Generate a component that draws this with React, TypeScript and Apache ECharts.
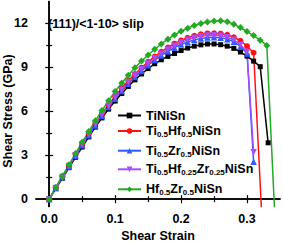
import React, { useEffect, useRef } from "react";
import * as echarts from "echarts";

// Shear strain steps (shared by all curves)
const strain = [
  0, 0.01, 0.02, 0.03, 0.04, 0.05, 0.06, 0.07, 0.08, 0.09, 0.1, 0.11, 0.12, 0.13, 0.14, 0.15, 0.16,
  0.17, 0.18, 0.19, 0.2, 0.21, 0.22, 0.23, 0.24, 0.25, 0.26, 0.27, 0.28, 0.29, 0.3, 0.31, 0.32, 0.33,
];

const seriesNames = [
  "TiNiSn",
  "Ti0.5Hf0.5NiSn",
  "Ti0.5Zr0.5NiSn",
  "Ti0.5Hf0.25Zr0.25NiSn",
  "Hf0.5Zr0.5NiSn",
];

// Shear stress (GPa), one value per strain step
const tiNiSn = [
  0, 0.72, 1.43, 2.15, 2.86, 3.56, 4.25, 4.92, 5.55, 6.15, 6.7, 7.22, 7.7, 8.15, 8.55, 8.92, 9.25,
  9.52, 9.75, 9.95, 10.15, 10.32, 10.45, 10.54, 10.6, 10.6, 10.55, 10.45, 10.3, 10.05, 9.77, 9.43, 9.05,
];
const tiHfNiSn = [
  0, 0.78, 1.54, 2.3, 3.04, 3.77, 4.48, 5.17, 5.83, 6.45, 7.03, 7.58, 8.08, 8.55, 8.98, 9.38, 9.74,
  10.07, 10.36, 10.62, 10.84, 11.02, 11.16, 11.26, 11.32, 11.33, 11.3, 11.22, 11.06, 10.82, 10.45, 10.0,
];
const tiZrNiSn = [
  0, 0.76, 1.5, 2.24, 2.97, 3.68, 4.37, 5.04, 5.68, 6.29, 6.86, 7.39, 7.88, 8.34, 8.76, 9.15, 9.5,
  9.82, 10.1, 10.35, 10.56, 10.74, 10.88, 10.98, 11.04, 11.06, 11.02, 10.93, 10.75, 10.43, 9.95,
];
const tiHfZrNiSn = [
  0, 0.77, 1.52, 2.27, 3.0, 3.72, 4.42, 5.1, 5.75, 6.37, 6.94, 7.48, 7.98, 8.44, 8.87, 9.26, 9.62,
  9.94, 10.23, 10.48, 10.7, 10.88, 11.02, 11.12, 11.18, 11.2, 11.16, 11.06, 10.88, 10.55, 10.05,
];
const hfZrNiSn = [
  0, 0.8, 1.58, 2.35, 3.12, 3.88, 4.63, 5.36, 6.05, 6.72, 7.35, 7.93, 8.47, 8.97, 9.43, 9.85, 10.24,
  10.6, 10.93, 11.22, 11.47, 11.68, 11.86, 12.0, 12.1, 12.17, 12.18, 12.12, 11.95, 11.72, 11.45, 11.17,
  10.86, 10.5,
];

// Failure (drop) points: [strain, stress, showMarker]
const tiNiSnDrop: [number, number, boolean] = [0.332, 3.85, true];
const tiHfNiSnDrop: [number, number, boolean] = [0.3218, -0.6, false];
const tiZrNiSnDrop: [number, number, boolean] = [0.31, 2.55, true];
const tiHfZrNiSnDrop: [number, number, boolean] = [0.31, 3.2, true];
const hfZrNiSnDrop: [number, number, boolean] = [0.3416, -0.6, false];

const xMajorTicks = [0, 0.1, 0.2, 0.3];
const xMinorTicks = [0.05, 0.15, 0.25];
const yMajorTicks = [0, 3, 6, 9, 12];
const yMinorTicks = [1.5, 4.5, 7.5, 10.5];

const colors = ["#000000", "#ff1010", "#2a5cff", "#a64dff", "#22aa22"];
const symbols = ["rect", "circle", "triangle", "triangle", "diamond"];
const symbolSizes = [5, 6, 6.5, 6.5, 7];
const symbolRotates = [0, 0, 0, 180, 0];
const legendTops = [109, 123.5, 143.2, 161.8, 181.8];

const FONT = "Liberation Sans, Arial, sans-serif";

function buildData(values: number[], drop: [number, number, boolean]) {
  const d: any[] = values.map((v, i) => [strain[i], v]);
  d.push(drop[2] ? [drop[0], drop[1]] : { value: [drop[0], drop[1]], symbol: "none" });
  return d;
}

function richName(name: string) {
  const parts = name.split(/(\d+\.\d+)/).filter((p) => p.length > 0);
  return parts.map((p) => (/^\d+\.\d+$/.test(p) ? `{s|${p}}` : `{m|${p}}`)).join("");
}

export default function App() {
  const ref = useRef<HTMLDivElement>(null);
  useEffect(() => {
    const chart = echarts.init(ref.current!, null, { renderer: "svg" });
    const allValues = [tiNiSn, tiHfNiSn, tiZrNiSn, tiHfZrNiSn, hfZrNiSn];
    const allDrops = [tiNiSnDrop, tiHfNiSnDrop, tiZrNiSnDrop, tiHfZrNiSnDrop, hfZrNiSnDrop];

    const axisLineStyle = { show: true, lineStyle: { color: "#000", width: 1.5 } };
    const xBase = { type: "value", min: -0.02, max: 0.35, splitLine: { show: false } };
    const yBase = { type: "value", min: -0.5, max: 13.5, splitLine: { show: false } };
    const labelStyle = { color: "#000", fontSize: 12.5, fontWeight: "bold", fontFamily: FONT };

    const option: any = {
      animation: false,
      title: {
        text: "(111)/<1-10> slip",
        left: 48,
        top: 17,
        padding: 0,
        textStyle: { fontSize: 12.5, fontWeight: "bold", color: "#000", fontFamily: FONT, lineHeight: 14 },
      },
      grid: { left: 36, right: 3, top: 1.5, bottom: 37.5, containLabel: false, outerBoundsMode: "none" },
      xAxis: [
        {
          ...xBase,
          position: "bottom",
          axisLine: axisLineStyle,
          axisTick: { show: true, inside: true, length: 4, customValues: xMajorTicks, lineStyle: { color: "#000", width: 1.2 } },
          axisLabel: {
            ...labelStyle,
            margin: 5.5,
            customValues: xMajorTicks,
            formatter: (v: number) => v.toFixed(1),
          },
          name: "Shear Strain",
          nameLocation: "middle",
          nameGap: 23,
          nameMoveOverlap: false,
          nameTextStyle: { ...labelStyle },
        },
        {
          ...xBase,
          position: "bottom",
          axisLine: { show: false },
          axisTick: { show: true, inside: true, length: 3, customValues: xMinorTicks, lineStyle: { color: "#000", width: 1.2 } },
          axisLabel: { show: false },
        },
        {
          ...xBase,
          position: "top",
          axisLine: axisLineStyle,
          axisTick: { show: true, inside: true, length: 4, customValues: xMajorTicks, lineStyle: { color: "#000", width: 1.2 } },
          axisLabel: { show: false },
        },
        {
          ...xBase,
          position: "top",
          axisLine: { show: false },
          axisTick: { show: true, inside: true, length: 3, customValues: xMinorTicks, lineStyle: { color: "#000", width: 1.2 } },
          axisLabel: { show: false },
        },
      ],
      yAxis: [
        {
          ...yBase,
          position: "left",
          axisLine: axisLineStyle,
          axisTick: { show: true, inside: true, length: 4, customValues: yMajorTicks, lineStyle: { color: "#000", width: 1.2 } },
          axisLabel: { ...labelStyle, margin: 8, customValues: yMajorTicks },
          name: "Shear Stress (GPa)",
          nameLocation: "middle",
          nameGap: 22,
          nameMoveOverlap: false,
          nameTextStyle: { ...labelStyle, padding: [0, 14, 0, 0] },
        },
        {
          ...yBase,
          position: "left",
          axisLine: { show: false },
          axisTick: { show: true, inside: true, length: 3, customValues: yMinorTicks, lineStyle: { color: "#000", width: 1.2 } },
          axisLabel: { show: false },
        },
        {
          ...yBase,
          position: "right",
          axisLine: axisLineStyle,
          axisTick: { show: true, inside: true, length: 4, customValues: yMajorTicks, lineStyle: { color: "#000", width: 1.2 } },
          axisLabel: { show: false },
        },
        {
          ...yBase,
          position: "right",
          axisLine: { show: false },
          axisTick: { show: true, inside: true, length: 3, customValues: yMinorTicks, lineStyle: { color: "#000", width: 1.2 } },
          axisLabel: { show: false },
        },
      ],
      legend: seriesNames.map((name, i) => ({
        data: [name],
        orient: "vertical",
        left: 117,
        top: legendTops[i],
        padding: 0,
        itemGap: 0,
        itemWidth: 23,
        itemHeight: 7,
        selectedMode: false,
        formatter: (n: string) => richName(n),
        textStyle: {
          color: "#000",
          fontFamily: FONT,
          fontWeight: "bold",
          fontSize: 12.5,
          rich: {
            m: { fontSize: 12.5, fontWeight: "bold", fontFamily: FONT, color: "#000", lineHeight: 14, verticalAlign: "middle" },
            s: {
              fontSize: 8,
              fontWeight: "bold",
              fontFamily: FONT,
              color: "#000",
              lineHeight: 8,
              padding: [7, 0, 0, 0],
              verticalAlign: "middle",
            },
          },
        },
      })),
      series: seriesNames.map((name, i) => ({
        name,
        type: "line",
        xAxisIndex: 0,
        yAxisIndex: 0,
        data: buildData(allValues[i], allDrops[i]),
        symbol: symbols[i],
        symbolSize: symbolSizes[i],
        symbolRotate: symbolRotates[i],
        showAllSymbol: true,
        clip: true,
        color: colors[i],
        lineStyle: { color: colors[i], width: 1.5 },
        itemStyle: { color: colors[i] },
      })),
    };
    chart.setOption(option);
    return () => chart.dispose();
  }, []);
  return (
    <div
      ref={ref}
      style={{ position: "absolute", left: 0, top: 0, width: 283, height: 244 }}
    />
  );
}
